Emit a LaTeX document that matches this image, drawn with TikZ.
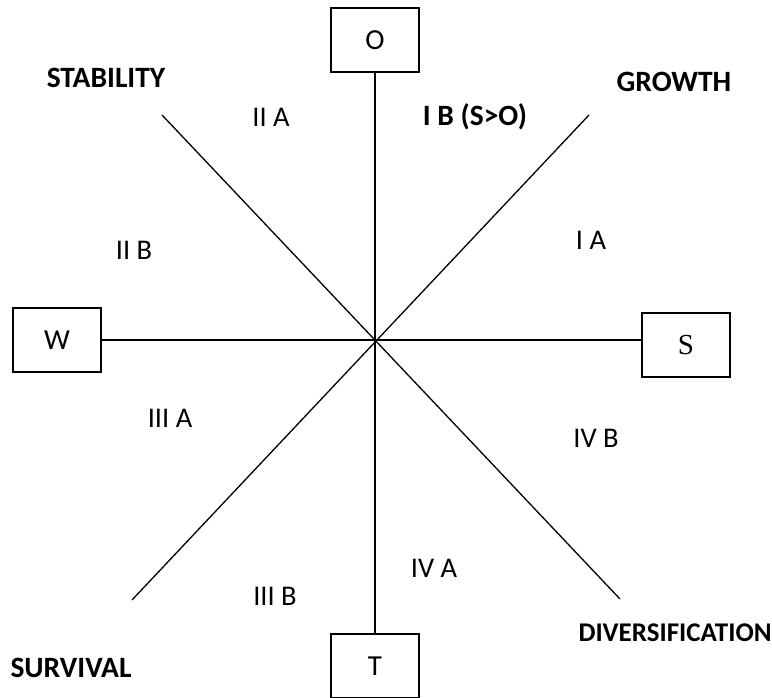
\documentclass[tikz,border=0pt]{standalone}
\usepackage{fontspec}
\setmainfont{Carlito}
\newfontfamily\serifS{Liberation Serif}

\begin{document}
\begin{tikzpicture}[x=1pt, y=-1pt]
\useasboundingbox (0,0) rectangle (772,698);

\coordinate (C) at (376, 341);
\coordinate (UL) at (162, 115);
\coordinate (LR) at (620, 599);
\coordinate (UR) at (589, 115);
\coordinate (LL) at (132, 600);


\tikzset{BoxStyle/.style = {
 draw,
 line width = 1.7pt,
 fill = white,
 inner sep = 0pt,
 minimum width = 88pt,
 minimum height = 64pt,
 font = \fontsize{29}{32}\selectfont} }

\node[BoxStyle] (O) at (375, 40) {O};
\node[BoxStyle] (T) at (375, 666) {T};
\node[BoxStyle] (W) at (57, 340) {W};
\node[BoxStyle, font = \serifS\fontsize{29}{32}\selectfont] (S) at (686, 345) {S};


\tikzset{LineStyle/.style = {line width = 1.3pt} }

\draw[LineStyle] (O) -- (T);
\draw[LineStyle] (W.east) -- (S.west |- W.east);
\draw[LineStyle] (UL) -- (LR);
\draw[LineStyle] (UR) -- (LL);


\tikzset{LabelStyle/.style = {font = \fontsize{28.5}{32}\selectfont},
 BoldStyle/.style = {font = \bfseries\fontsize{29.5}{34}\selectfont} }

\node[BoldStyle] (STAB) at (106, 78) {STABILITY};
\node[BoldStyle] (GROW) at (674, 82) {GROWTH};
\node[BoldStyle] (SURV) at (71, 668) {SURVIVAL};
\node[BoldStyle, font = \bfseries\fontsize{27}{32}\selectfont] (DIVE) at (675, 633) {DIVERSIFICATION};
\node[BoldStyle] (F1B) at (475, 117) {I B (S>O)};
\node[LabelStyle] (F2A) at (271, 117) {II A};
\node[LabelStyle] (F2B) at (134, 250) {II B};
\node[LabelStyle] (F1A) at (591, 240) {I A};
\node[LabelStyle] (F3A) at (170, 418) {III A};
\node[LabelStyle] (F4B) at (596, 438) {IV B};
\node[LabelStyle] (F3B) at (275, 596) {III B};
\node[LabelStyle] (F4A) at (434, 568) {IV A};

\end{tikzpicture}
\end{document}
